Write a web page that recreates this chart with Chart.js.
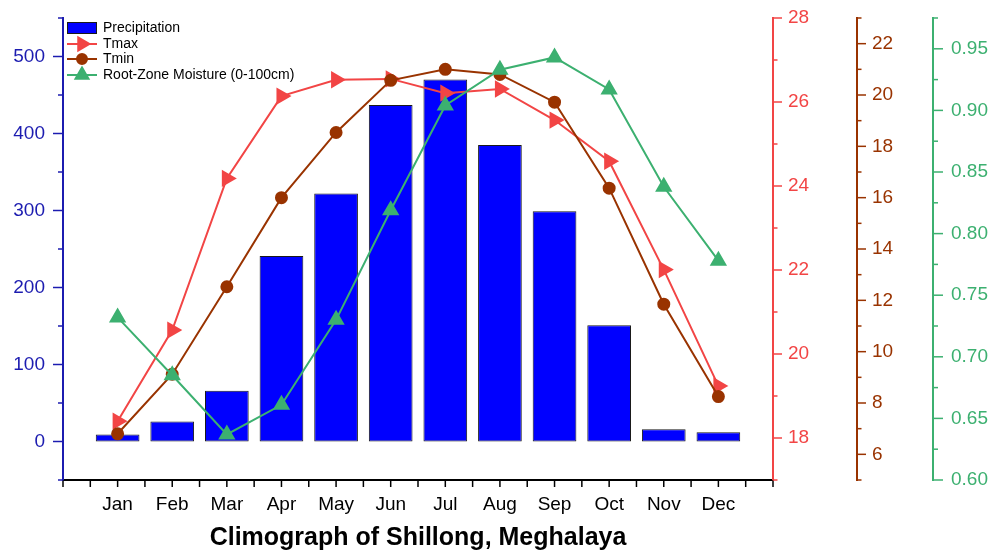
<!DOCTYPE html>
<html>
<head>
<meta charset="utf-8">
<script src="https://cdn.jsdelivr.net/npm/chart.js@4.4.1/dist/chart.umd.min.js"></script>
<style>
  html, body { margin: 0; padding: 0; background: #fff; }
  #wrap { width: 997px; height: 554px; }
</style>
</head>
<body>
<div id="wrap"><canvas id="climo" width="997" height="554"></canvas></div>
<script>
const months = ["Jan", "Feb", "Mar", "Apr", "May", "Jun", "Jul", "Aug", "Sep", "Oct", "Nov", "Dec"];
const precipitation = [9, 26, 66, 241, 322, 437, 470, 385, 299, 151, 16, 12];
const tmax = [18.40, 20.57, 24.18, 26.14, 26.53, 26.55, 26.21, 26.31, 25.57, 24.59, 22.01, 19.24];
const tmin = [6.80, 9.12, 12.53, 16.00, 18.54, 20.57, 21.00, 20.80, 19.72, 16.37, 11.85, 8.25];
const moisture = [0.732, 0.685, 0.637, 0.661, 0.730, 0.819, 0.904, 0.933, 0.943, 0.917, 0.838, 0.778];

const BLUE = "#1c1cb0", RED = "#f24545", BROWN = "#993300", GREEN = "#3cb070";
const FONT = "'Liberation Sans', Arial, sans-serif";
Chart.defaults.font.family = FONT;

const points = arr => arr.map((v, i) => ({ x: i + 1, y: v }));

// which ticks are long on each axis
const tickSpec = {
  x: { color: "#000", major: 7, minor: 7, isMajor: () => true, mid: true },
  y: { color: BLUE, major: 10, minor: 5, isMajor: v => v % 100 === 0 },
  yTmax: { color: RED, major: 9, minor: 4.5, isMajor: v => v % 2 === 0 },
  yTmin: { color: BROWN, major: 9, minor: 4.5, isMajor: v => v % 2 === 0 },
  yMoist: { color: GREEN, major: 10, minor: 5, isMajor: v => Math.round(v * 1000) % 50 === 0 }
};

const tickMarks = {
  id: "tickMarks",
  afterDraw(chart) {
    const ctx = chart.ctx;
    ctx.save();
    ctx.lineWidth = 1.5;
    for (const id in tickSpec) {
      const s = chart.scales[id], spec = tickSpec[id];
      ctx.strokeStyle = spec.color;
      const mark = (p, len) => {
        ctx.beginPath();
        if (s.isHorizontal()) { ctx.moveTo(p, s.top); ctx.lineTo(p, s.top + len); }
        else if (s.position === "left") { ctx.moveTo(s.right, p); ctx.lineTo(s.right - len, p); }
        else { ctx.moveTo(s.left, p); ctx.lineTo(s.left + len, p); }
        ctx.stroke();
      };
      s.ticks.forEach((t, i) => {
        mark(s.getPixelForValue(t.value), spec.isMajor(t.value) ? spec.major : spec.minor);
        if (spec.mid && i > 0) {
          mark(s.getPixelForValue((t.value + s.ticks[i - 1].value) / 2), spec.minor);
        }
      });
    }
    ctx.restore();
  }
};

const legendBox = {
  id: "legendBox",
  afterDraw(chart) {
    const ctx = chart.ctx;
    const x0 = 67, w = 30, rows = [28, 44, 59, 75];
    ctx.save();
    ctx.font = "14px " + FONT;
    ctx.textBaseline = "middle";
    chart.data.datasets.forEach((ds, i) => {
      const y = rows[i];
      if (ds.type === "bar") {
        ctx.fillStyle = ds.backgroundColor;
        ctx.fillRect(x0, y - 6, w, 12);
        ctx.strokeStyle = ds.borderColor;
        ctx.lineWidth = 1;
        ctx.strokeRect(x0 + 0.5, y - 5.5, w - 1, 11);
      } else {
        ctx.strokeStyle = ds.borderColor;
        ctx.lineWidth = 2;
        ctx.beginPath(); ctx.moveTo(x0, y); ctx.lineTo(x0 + w, y); ctx.stroke();
        ctx.fillStyle = ds.pointBackgroundColor;
        Chart.helpers.drawPoint(ctx, {
          pointStyle: ds.pointStyle, rotation: ds.pointRotation || 0,
          radius: ds.pointRadius - 0.5, borderWidth: 1
        }, x0 + w / 2, y);
      }
      ctx.fillStyle = "#000";
      ctx.fillText(ds.label, x0 + w + 6, y);
    });
    ctx.restore();
  }
};

const tickFont = { size: 19 };

// fixed axis widths, and no extra room for the end labels
const fixWidth = w => s => { s.width = w; s.paddingTop = 0; s.paddingBottom = 0; };

new Chart(document.getElementById("climo"), {
  type: "bar",
  data: {
    datasets: [
      {
        type: "bar", label: "Precipitation", data: points(precipitation), yAxisID: "y",
        backgroundColor: "#0000ff", borderColor: "#1a1a1a", borderWidth: 1, borderSkipped: false,
        barPercentage: 0.8, categoryPercentage: 1, order: 4
      },
      {
        type: "line", label: "Tmax", data: points(tmax), yAxisID: "yTmax",
        borderColor: RED, borderWidth: 2, pointStyle: "triangle", pointRotation: 90,
        pointRadius: 8, pointBackgroundColor: RED, pointBorderColor: RED, tension: 0, order: 3
      },
      {
        type: "line", label: "Tmin", data: points(tmin), yAxisID: "yTmin",
        borderColor: BROWN, borderWidth: 2, pointStyle: "circle",
        pointRadius: 5.5, pointBackgroundColor: BROWN, pointBorderColor: BROWN, tension: 0, order: 2
      },
      {
        type: "line", label: "Root-Zone Moisture (0-100cm)", data: points(moisture), yAxisID: "yMoist",
        borderColor: GREEN, borderWidth: 2, pointStyle: "triangle",
        pointRadius: 8, pointBackgroundColor: GREEN, pointBorderColor: GREEN, tension: 0, order: 1
      }
    ]
  },
  options: {
    responsive: false,
    animation: false,
    devicePixelRatio: 1,
    layout: { padding: { top: 18, left: 0, right: 0, bottom: 0 } },
    plugins: { legend: { display: false }, tooltip: { enabled: false } },
    scales: {
      x: {
        type: "linear", min: 0, max: 13, offset: false,
        grid: { display: false, drawTicks: false },
        border: { display: true, color: "#000", width: 2 },
        ticks: {
          stepSize: 1, autoSkip: false, maxRotation: 0, minRotation: 0, padding: 13,
          color: "#000", font: tickFont,
          callback: v => (v >= 1 && v <= 12 ? months[v - 1] : "")
        },
        title: {
          display: true, text: "Climograph of Shillong, Meghalaya", color: "#000",
          font: { size: 25, weight: "bold" }, padding: { top: 0, bottom: 1 }
        },
        afterFit: s => { s.height = 74; s.paddingLeft = 0; s.paddingRight = 0; }
      },
      y: {
        position: "left", min: -50, max: 550,
        grid: { display: false, drawTicks: false },
        border: { display: true, color: BLUE, width: 2 },
        ticks: {
          stepSize: 50, autoSkip: false, padding: 18, color: BLUE, font: tickFont,
          callback: v => (v % 100 === 0 && v >= 0 && v <= 500 ? v : "")
        },
        afterFit: fixWidth(63)
      },
      yTmax: {
        position: "right", min: 17, max: 28,
        grid: { display: false, drawTicks: false },
        border: { display: true, color: RED, width: 2 },
        ticks: {
          stepSize: 1, autoSkip: false, padding: 15, color: RED, font: tickFont,
          callback: v => (v % 2 === 0 ? v : "")
        },
        afterFit: fixWidth(84)
      },
      yTmin: {
        position: "right", min: 5, max: 23,
        grid: { display: false, drawTicks: false },
        border: { display: true, color: BROWN, width: 2 },
        ticks: {
          stepSize: 1, autoSkip: false, padding: 15, color: BROWN, font: tickFont,
          callback: v => (v % 2 === 0 ? v : "")
        },
        afterFit: fixWidth(76)
      },
      yMoist: {
        position: "right", min: 0.6, max: 0.975,
        grid: { display: false, drawTicks: false },
        border: { display: true, color: GREEN, width: 2 },
        ticks: {
          stepSize: 0.025, autoSkip: false, padding: 18, color: GREEN, font: tickFont,
          callback: v => (Math.round(v * 1000) % 50 === 0 ? v.toFixed(2) : "")
        },
        afterFit: fixWidth(64)
      }
    }
  },
  plugins: [tickMarks, legendBox]
});
</script>
</body>
</html>
